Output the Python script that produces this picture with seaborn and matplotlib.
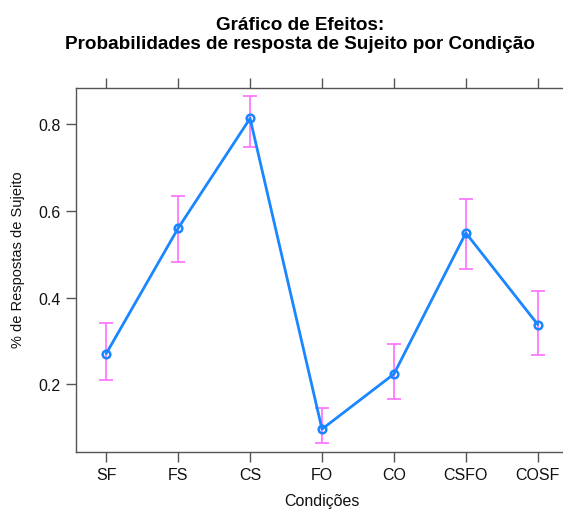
import matplotlib
matplotlib.use("Agg")
import matplotlib.pyplot as plt
import seaborn as sns
import pandas as pd

# Data
condicoes = ["SF", "FS", "CS", "FO", "CO", "CSFO", "COSF"]
prob = [0.271, 0.560, 0.813, 0.097, 0.224, 0.549, 0.338]
lower = [0.210, 0.482, 0.748, 0.064, 0.167, 0.467, 0.268]
upper = [0.342, 0.634, 0.865, 0.145, 0.294, 0.627, 0.416]
yticks = [0.2, 0.4, 0.6, 0.8]

df = pd.DataFrame({"cond": condicoes, "prob": prob, "lo": lower, "hi": upper})

sns.set_style("white")
plt.rcParams["font.family"] = ["Liberation Sans", "DejaVu Sans"]
plt.rcParams["text.color"] = "black"
plt.rcParams["axes.labelcolor"] = "black"

fig = plt.figure(figsize=(5.63, 5.10), dpi=100)
ax = fig.add_axes([76/563, 1-452.7/510, (568-76)/563, (452.7-89)/510])

ax.errorbar(df["cond"], df["prob"],
            yerr=[df["prob"]-df["lo"], df["hi"]-df["prob"]],
            fmt="none", ecolor="#ff77ff", elinewidth=1.3, capsize=5, capthick=1.3, zorder=2)
sns.lineplot(data=df, x="cond", y="prob", ax=ax, color="#1a86ff", linewidth=2,
             marker="o", markersize=5.5, markerfacecolor="none",
             markeredgecolor="#1a86ff", markeredgewidth=1.8, sort=False, zorder=3)

ax.set_xlim(-0.42, 6.42)
ax.set_ylim(0.045, 0.883)
ax.set_yticks(yticks)
ax.set_yticklabels([f"{v:.1f}" for v in yticks])
ax.set_xlabel("")
ax.set_ylabel("")

for s in ax.spines.values():
    s.set_color("#555555")
    s.set_linewidth(1.0)
    s.set_clip_on(False)

ax.tick_params(axis="x", which="both", bottom=True, top=True, direction="out",
               length=7, width=1, color="#555555", labelcolor="#111111", labelsize=11.5, pad=4)
ax.tick_params(axis="y", which="both", left=True, right=True, direction="out",
               length=7, width=1, color="#555555", labelcolor="#111111", labelsize=11.5, pad=4)

fig.text(300/563, 1-35/510, "Gráfico de Efeitos:\nProbabilidades de resposta de Sujeito por Condição",
         ha="center", va="center", fontsize=13.6, fontweight="bold", linespacing=1.1,
         color="black")
fig.text(321.7/563, 1-501.5/510, "Condições", ha="center", va="center", fontsize=11.5,
         color="#111111")
fig.text(18/563, 1-260/510, "% de Respostas de Sujeito", ha="center", va="center",
         rotation=90, fontsize=10.5, color="#111111")

fig.savefig("out.png", dpi=100)
